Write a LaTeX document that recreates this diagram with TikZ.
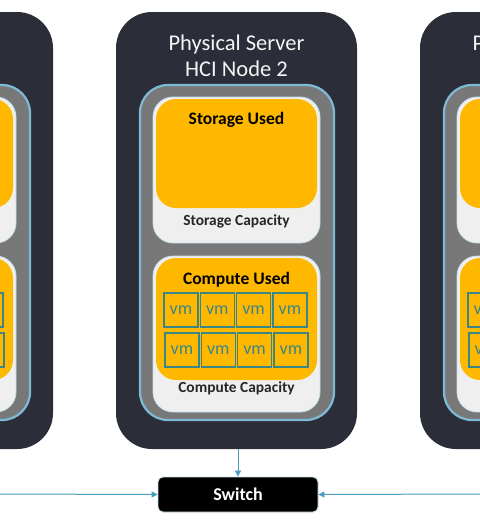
\documentclass[tikz,border=0pt]{standalone}
\usepackage{fontspec}
\setmainfont{Carlito}
\usetikzlibrary{arrows.meta}
\definecolor{srvbg}{HTML}{2B2D38}
\definecolor{panelgray}{HTML}{787878}
\definecolor{panelblue}{HTML}{7DBAD6}
\definecolor{lightbox}{HTML}{EFEFEF}
\definecolor{lightline}{HTML}{C4E0EA}
\definecolor{usedorange}{HTML}{FFB800}
\definecolor{vmteal}{HTML}{3A8588}
\definecolor{arrowblue}{HTML}{4A9BC0}
\tikzset{
  server/.style={rectangle, rounded corners=36pt, fill=srvbg, minimum width=241pt, minimum height=437pt, inner sep=0pt},
  panel/.style={rectangle, rounded corners=28pt, fill=panelgray, draw=panelblue, line width=2.2pt, minimum width=194pt, minimum height=335pt, inner sep=0pt},
  capbox/.style={rectangle, rounded corners=20pt, fill=lightbox, draw=lightline, line width=0.8pt, minimum width=167pt, inner sep=0pt},
  usedbox/.style={rectangle, rounded corners=20pt, fill=usedorange, minimum width=161pt, inner sep=0pt},
  vmbox/.style={rectangle, draw=vmteal, line width=1.3pt, minimum width=34pt, minimum height=34pt, inner sep=0pt, text=vmteal, font=\fontsize{18}{18}\selectfont},
  title/.style={text=white!92!gray, font=\fontsize{22.5}{23}\selectfont},
  usedlabel/.style={font=\bfseries\fontsize{17.5}{18}\selectfont, text=black},
  caplabel/.style={font=\bfseries\fontsize{15.4}{16}\selectfont, text=black!85},
  switchbox/.style={rectangle, rounded corners=5pt, fill=black, draw=lightline, line width=0.8pt, minimum width=160pt, minimum height=35pt, inner sep=0pt, text=white, font=\bfseries\fontsize{18}{18}\selectfont},
  link/.style={draw=arrowblue, line width=1pt, -{Triangle[length=6pt,width=6pt]}}
}
\begin{document}
\begin{tikzpicture}[x=1pt,y=-1pt]
\useasboundingbox (0,0) rectangle (480,523);
\fill[white] (0,0) rectangle (480,523);
\begin{scope}
\clip (0,0) rectangle (480,523);
% three servers; the left and right ones are cut by the picture's edges
\foreach \dx/\n/\num in {-304/L/1, 0/C/2, 304/R/3} {
  \begin{scope}[xshift=\dx pt]
    \node[server] (srv\n) at (236.5,230.5) {};
    \node[title] (t1\n) at (236.5,44) {Physical Server};
    \node[title] (t2\n) at (236.5,69) {HCI Node \num};
    \node[panel] (pan\n) at (237,252.5) {};
    \node[capbox, minimum height=146pt] (scap\n) at (236.5,170) {};
    \node[usedbox, minimum height=109pt] (sused\n) at (236.5,153.5) {};
    \node[usedlabel] (sul\n) at (236.5,120) {Storage Used};
    \node[caplabel] (scl\n) at (236.5,221) {Storage Capacity};
    \node[capbox, minimum height=156pt] (ccap\n) at (236.5,334) {};
    \node[usedbox, minimum height=122pt] (cused\n) at (236.5,319) {};
    \node[usedlabel] (cul\n) at (236.5,280) {Compute Used};
    \node[caplabel] (ccl\n) at (236.5,388) {Compute Capacity};
    \foreach \i in {0,1,2,3} {
      \node[vmbox] (vma\n\i) at (181+36.3*\i,310) {vm};
      \node[vmbox] (vmb\n\i) at (182+36.3*\i,350) {vm};
    }
  \end{scope}
}
% switch and links
\node[switchbox] (sw) at (238,494.5) {Switch};
\coordinate (lin) at (0,494);
\coordinate (rin) at (480,494);
\draw[link] (srvC.south -| sw.north) -- (sw.north);
\draw[link] (lin) -- (sw.west);
\draw[link] (rin) -- (sw.east);
\end{scope}
\end{tikzpicture}
\end{document}
